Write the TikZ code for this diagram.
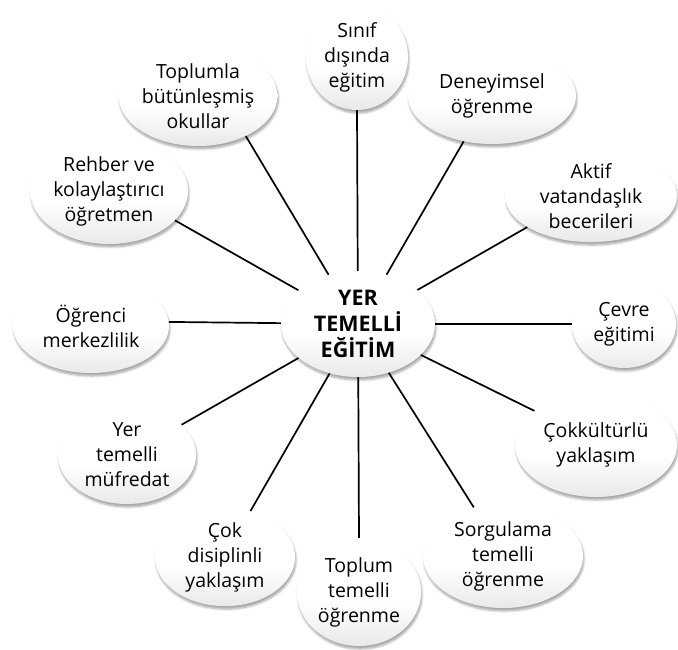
\documentclass[tikz,border=0pt]{standalone}
\usepackage{fontspec}
\setmainfont{Open Sans}
\usetikzlibrary{shapes.geometric,shadows.blur}

% soft grey at the foot of each bubble
\pgfdeclareverticalshading{bubbleshade}{100bp}{color(0bp)=(black!30); color(22bp)=(black!10); color(45bp)=(white); color(100bp)=(white)}

\begin{document}
\begin{tikzpicture}[x=1pt,y=-1pt,
  bubble/.style={ellipse, shading=bubbleshade, inner sep=0pt, align=center,
    blur shadow={shadow xshift=1pt, shadow yshift=-3pt, shadow blur steps=6, shadow opacity=35},
    font={\fontsize{19.5}{25}\selectfont}},
  hub/.style={bubble, font={\fontsize{21.5}{26}\selectfont\bfseries}},
  spoke/.style={draw=black, line width=1.7pt}]
\useasboundingbox (0,0) rectangle (678,649);

% centre
\node[hub, minimum width=154pt, minimum height=106pt] (merkez) at (358,324) {YER\\TEMELLİ\\EĞİTİM};

% outer ring, clockwise from the top
\node[bubble, minimum width=102pt, minimum height=106pt] (sinif) at (357,57) {Sınıf\\dışında\\eğitim};
\node[bubble, minimum width=168pt, minimum height=96pt] (deney) at (492,96) {Deneyimsel\\öğrenme};
\node[bubble, minimum width=172pt, minimum height=90pt] (aktif) at (591,196) {Aktif\\vatandaşlık\\becerileri};
\node[bubble, minimum width=104pt, minimum height=88pt] (cevre) at (624,324) {Çevre\\eğitimi};
\node[bubble, minimum width=162pt, minimum height=104pt] (cokkul) at (596,445) {Çokkültürlü\\yaklaşım};
\node[bubble, minimum width=160pt, minimum height=104pt] (sorgu) at (503,556) {Sorgulama\\temelli\\öğrenme};
\node[bubble, minimum width=124pt, minimum height=108pt] (toplum) at (359,592) {Toplum\\temelli\\öğrenme};
\node[bubble, minimum width=140pt, minimum height=90pt] (cokdis) at (225,557) {Çok\\disiplinli\\yaklaşım};
\node[bubble, minimum width=138pt, minimum height=98pt] (yertem) at (127,455) {Yer\\temelli\\müfredat};
\node[bubble, minimum width=156pt, minimum height=94pt] (ogrenci) at (91,326) {Öğrenci\\merkezlilik};
\node[bubble, minimum width=158pt, minimum height=106pt] (rehber) at (109,191) {Rehber ve\\kolaylaştırıcı\\öğretmen};
\node[bubble, minimum width=112pt, minimum height=100pt] (toplumla) at (198,96) {Toplumla\\bütünleşmiş\\okullar};

% spokes
\foreach \n/\a in {sinif/-90, deney/-122, aktif/-154, cevre/180, cokkul/151, sorgu/121,
  toplum/90, cokdis/61, yertem/29, ogrenci/3, rehber/-24, toplumla/-40}
  \draw[spoke] (merkez) -- (\n.\a);
\end{tikzpicture}
\end{document}
